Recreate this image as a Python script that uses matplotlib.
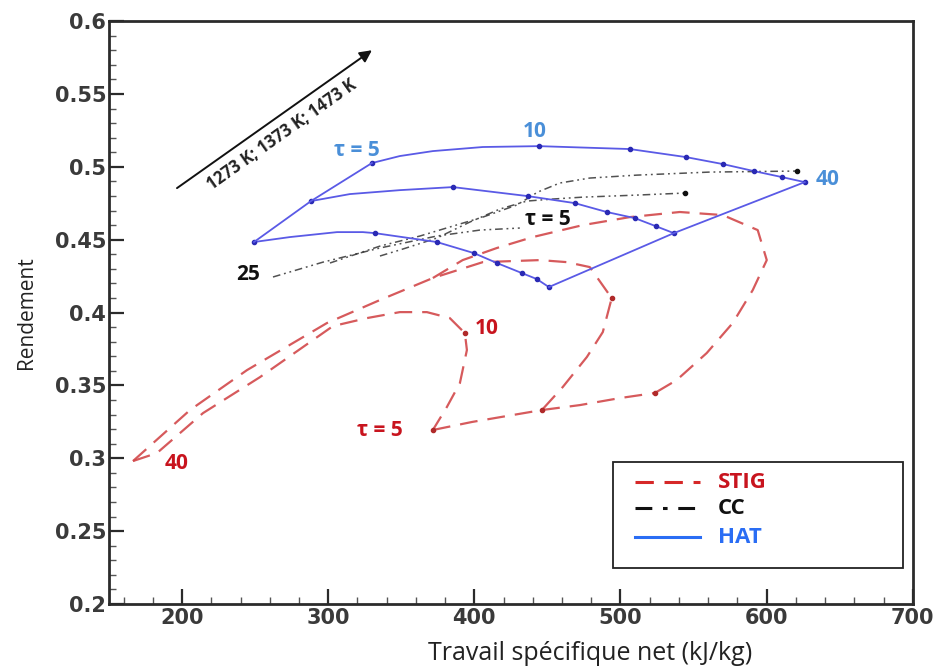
import matplotlib
matplotlib.use("Agg")
import matplotlib.pyplot as plt
from matplotlib.patches import Rectangle

# ---------------- data ----------------
# HAT: one curve per turbine inlet temperature.  Each list traces the curve;
# the marked entries are the pressure ratios tau = 5, 10, 15, ..., 40.
tau_hat = [5, 10, 15, 20, 25, 30, 35, 40]
hat_w_1273 = [249.2, 273.8, 306.0, 323.7, 331.9, 374.3, 399.7, 415.4, 432.5, 442.7, 451.0]
hat_eta_1273 = [0.4484, 0.4518, 0.4552, 0.4552, 0.4545, 0.4484, 0.4408, 0.4340, 0.4271,
                0.4230, 0.4175]
hat_tau_idx_1273 = [0, 4, 5, 6, 7, 8, 9, 10]
hat_w_1373 = [288.2, 314.8, 349.0, 385.3, 436.6, 468.7, 490.6, 509.8, 524.1, 536.5]
hat_eta_1373 = [0.4765, 0.4813, 0.4840, 0.4861, 0.4799, 0.4751, 0.4690, 0.4648, 0.4593,
                0.4545]
hat_tau_idx_1373 = [0, 3, 4, 5, 6, 7, 8, 9]
hat_w_1473 = [329.9, 349.0, 371.6, 405.8, 444.1, 506.4, 544.7, 570.0, 591.2, 610.3, 626.1]
hat_eta_1473 = [0.5026, 0.5074, 0.5108, 0.5136, 0.5142, 0.5122, 0.5067, 0.5019, 0.4971,
                0.4930, 0.4895]
hat_tau_idx_1473 = [0, 4, 5, 6, 7, 8, 9, 10]

# CC: three temperature curves, tau = 25 (left) ... 5 (right)
cc_w_1 = [262.2, 296.4, 335.4, 374.3, 403.8, 431.1]
cc_eta_1 = [0.4244, 0.4346, 0.4443, 0.4525, 0.4566, 0.4580]
cc_w_2 = [335.4, 351.1, 374.3, 396.9, 417.4, 435.9, 453.7, 474.2, 511.1, 544.0]
cc_eta_2 = [0.4388, 0.4436, 0.4511, 0.4621, 0.4710, 0.4765, 0.4779, 0.4792, 0.4806, 0.4820]
cc_w_3 = [301.2, 335.4, 362.7, 383.2, 405.8, 429.1, 443.4, 458.5, 479.0, 511.1, 561.1, 620.6]
cc_eta_3 = [0.4340, 0.4456, 0.4525, 0.4587, 0.4655, 0.4738, 0.4827, 0.4889, 0.4923,
            0.4943, 0.4964, 0.4971]

# STIG: three temperature curves plus the tau = 5 line joining their ends
stig_w_1 = [166.4, 182.8, 214.3, 253.3, 303.2, 326.5, 349.0, 367.5, 383.2, 393.5,
            394.9, 390.1, 381.2, 371.6]
stig_eta_1 = [0.2981, 0.3036, 0.3310, 0.3557, 0.3907, 0.3962, 0.4003, 0.4003, 0.3962,
              0.3859, 0.3743, 0.3516, 0.3352, 0.3194]
stig_w_2 = [166.4, 205.4, 244.4, 299.1, 335.4, 371.6, 405.8, 444.8, 463.3, 479.0,
            494.0, 487.9, 477.0, 460.5, 446.2]
stig_eta_2 = [0.2981, 0.3331, 0.3605, 0.3928, 0.4086, 0.4237, 0.4346, 0.4360, 0.4346,
              0.4312, 0.4099, 0.3866, 0.3695, 0.3489, 0.3331]
stig_w_3 = [371.6, 392.0, 415.4, 440.0, 474.2, 506.4, 540.6, 570.0, 593.9, 600.1,
            590.5, 576.8, 559.0, 538.5, 523.5]
stig_eta_3 = [0.4237, 0.4360, 0.4443, 0.4518, 0.4600, 0.4655, 0.4690, 0.4669, 0.4566,
              0.4360, 0.4154, 0.3928, 0.3722, 0.3537, 0.3448]
stig_w_tau5 = [371.6, 398.3, 426.3, 446.2, 472.2, 499.5, 523.5]
stig_eta_tau5 = [0.3194, 0.3249, 0.3297, 0.3331, 0.3365, 0.3413, 0.3448]

legend_labels = ["STIG", "CC", "HAT"]
temp_label = "1273 K; 1373 K; 1473 K"

# ---------------- style ----------------
RED = "#d2484a"
BLUE_LINE = "#5a5ae6"
BLUE_MARK = "#2a2ab4"
BLUE_TEXT = "#4a8fd8"
DARK = "#2b2b2b"
TEXT_FONT = ["Open Sans", "DejaVu Sans"]

fig = plt.figure(figsize=(9.4, 6.7), dpi=100)
ax = fig.add_axes([0.116, 0.0985, 0.855, 0.870])

stig_style = dict(color=RED, lw=1.6, dashes=(8, 4.5), alpha=0.9)
for w, e in [(stig_w_1, stig_eta_1), (stig_w_2, stig_eta_2), (stig_w_3, stig_eta_3),
             (stig_w_tau5, stig_eta_tau5)]:
    ax.plot(w, e, **stig_style)
# marked points on the STIG curves
for w, e in [(stig_w_1, stig_eta_1), (stig_w_2, stig_eta_2), (stig_w_3, stig_eta_3)]:
    ax.plot(w[-1], e[-1], marker="o", ms=3, color="#b02a2a")
ax.plot(stig_w_1[9], stig_eta_1[9], marker="o", ms=3, color="#b02a2a")
ax.plot(stig_w_2[10], stig_eta_2[10], marker="o", ms=3, color="#b02a2a")

cc_style = dict(color="#333333", lw=1.1, dashes=(5, 2.5, 1.2, 2.5, 1.2, 2.5), alpha=0.85)
for w, e in [(cc_w_1, cc_eta_1), (cc_w_2, cc_eta_2), (cc_w_3, cc_eta_3)]:
    ax.plot(w, e, **cc_style)
for w, e in [(cc_w_2, cc_eta_2), (cc_w_3, cc_eta_3)]:
    ax.plot(w[-1], e[-1], marker="o", ms=3.0, color="#111111")

hat_curves = [(hat_w_1273, hat_eta_1273, hat_tau_idx_1273),
              (hat_w_1373, hat_eta_1373, hat_tau_idx_1373),
              (hat_w_1473, hat_eta_1473, hat_tau_idx_1473)]
for w, e, idx in hat_curves:
    ax.plot(w, e, color=BLUE_LINE, lw=1.3, marker="o", ms=3.0, markevery=idx,
            mfc=BLUE_MARK, mec=BLUE_MARK)
# iso-tau edges of the HAT carpet (tau = 5 and tau = 40)
for k in (0, len(tau_hat) - 1):
    ax.plot([w[idx[k]] for w, e, idx in hat_curves],
            [e[idx[k]] for w, e, idx in hat_curves],
            color=BLUE_LINE, lw=1.3)

# ---------------- annotations ----------------
lab = dict(fontsize=15, fontweight="bold", family=TEXT_FONT, ha="center", va="center")
ax.text(319.6, 0.5115, "τ = 5", color=BLUE_TEXT, **lab)
ax.text(441.4, 0.5245, "10", color=BLUE_TEXT, **lab)
ax.text(641.5, 0.4916, "40", color=BLUE_TEXT, **lab)
ax.text(245.0, 0.4264, "25", color="#111111", **lab)
ax.text(450.0, 0.4641, "τ = 5", color="#111111", **lab)
ax.text(408.5, 0.3894, "10", color="#c8141e", **lab)
ax.text(335.4, 0.3194, "τ = 5", color="#c8141e", **lab)
ax.text(196.0, 0.2967, "40", color="#c8141e", **lab)

ax.annotate("", xy=(329.9, 0.5800), xytext=(196.5, 0.4854),
            arrowprops=dict(arrowstyle="-|>", color="#111111", lw=1.4,
                            mutation_scale=18, shrinkA=0, shrinkB=0))
ax.text(268.5, 0.5222, temp_label, rotation=35.3, rotation_mode="anchor",
        ha="center", va="center", fontsize=12, fontweight="bold",
        family=TEXT_FONT, color="#222222")

# ---------------- axes ----------------
ax.set_xlim(150, 700)
ax.set_ylim(0.2, 0.6)
ax.set_xticks([200, 300, 400, 500, 600, 700])
ax.set_xticks(range(160, 700, 20), minor=True)
ax.set_yticks([0.2, 0.25, 0.3, 0.35, 0.4, 0.45, 0.5, 0.55, 0.6])
ax.set_yticks([0.2 + 0.01 * i for i in range(41)], minor=True)
ax.set_yticklabels(["0.2", "0.25", "0.3", "0.35", "0.4", "0.45", "0.5", "0.55", "0.6"])
for s in ax.spines.values():
    s.set_linewidth(2.0)
    s.set_color(DARK)
ax.tick_params(which="major", direction="in", length=11, width=1.6, color=DARK,
               labelsize=15, labelcolor="#3a3a3a", pad=3)
ax.tick_params(axis="y", which="major", pad=2)
ax.tick_params(which="minor", direction="in", length=5, width=1.0, color="#555555")
for t in ax.get_xticklabels() + ax.get_yticklabels():
    t.set_fontweight("bold")
    t.set_family("DejaVu Sans")

ax.text(0.598, -0.085, "Travail spécifique net (kJ/kg)", transform=ax.transAxes,
        fontsize=18, family=TEXT_FONT, color="#222222", ha="center", va="center")
ax.set_ylabel("Rendement", fontsize=15, family=TEXT_FONT, color="#222222",
              labelpad=13)

# ---------------- legend (drawn as a framed box) ----------------
ax.add_patch(Rectangle((0.627, 0.0617), 0.3606, 0.1819, transform=ax.transAxes,
                       facecolor="white", edgecolor="#222222", lw=1.3, zorder=5))
leg_y = [0.2093, 0.1647, 0.1149]
leg_line = [dict(color="#d62828", lw=2.2, dashes=(6, 3.5)),
            dict(color="#111111", lw=2.2, dashes=(5.5, 3.5, 1.5, 3.5)),
            dict(color="#2a6df4", lw=2.2)]
leg_text_col = ["#c8141e", "#111111", "#2a6df4"]
for y, label, ls, tc in zip(leg_y, legend_labels, leg_line, leg_text_col):
    ax.plot([0.654, 0.735], [y, y], transform=ax.transAxes, zorder=6, **ls)
    ax.text(0.758, y, label, transform=ax.transAxes, color=tc, fontsize=16,
            fontweight="bold", family=TEXT_FONT, va="center", ha="left", zorder=6)

fig.savefig("out.png", dpi=100)
